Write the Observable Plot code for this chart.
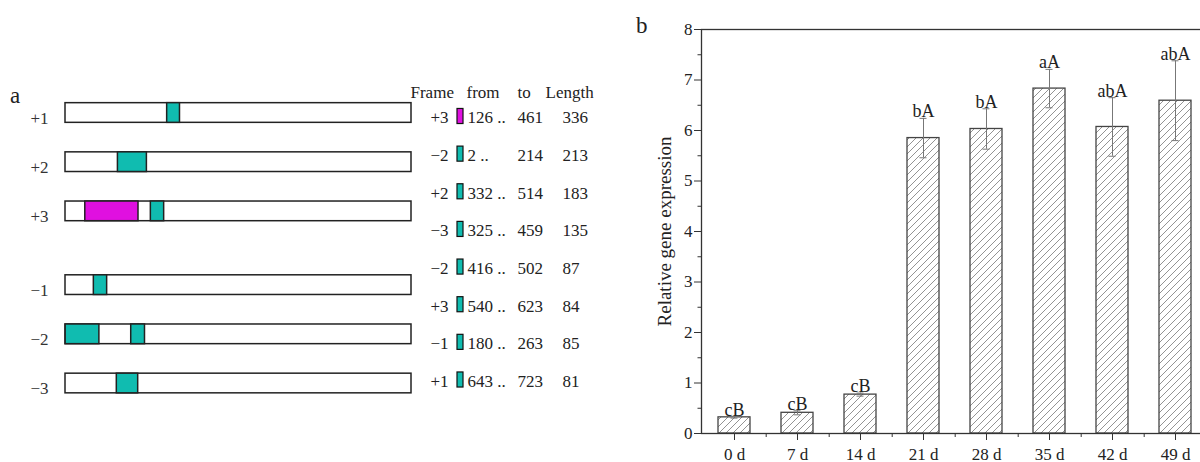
<!DOCTYPE html>
<html>
<head>
<meta charset="utf-8">
<script src="https://cdn.jsdelivr.net/npm/d3@7"></script>
<script src="https://cdn.jsdelivr.net/npm/@observablehq/plot@0.6"></script>
<style>
  html, body { margin: 0; padding: 0; background: #fff; overflow: hidden; width: 1200px; height: 462px; }
  #root { position: relative; width: 1200px; height: 462px; font-family: "Liberation Serif", "Times New Roman", serif; color: #222; }
  .panel { position: absolute; top: 0; }
  .tag { position: absolute; font-size: 23px; line-height: 23px; }
</style>
</head>
<body>
<div id="root">
  <div class="tag" style="left:10px; top:84px;">a</div>
  <div class="tag" style="left:636px; top:14px;">b</div>
</div>
<script>
// ---------- Panel a data ----------
const seqLength = 2185;
const frames = ["+1", "+2", "+3", "−1", "−2", "−3"];
const orfFrame = ["+3", "−2", "+2", "−3", "−2", "+3", "−1", "+1"];
const orfFrom  = [126, 2, 332, 325, 416, 540, 180, 643];
const orfTo    = [461, 214, 514, 459, 502, 623, 263, 723];
const orfLen   = [336, 213, 183, 135, 87, 84, 85, 81];
const tableHeader = ["Frame", "from", "to", "Length"];

// ---------- Panel b data ----------
const days    = ["0 d", "7 d", "14 d", "21 d", "28 d", "35 d", "42 d", "49 d"];
const means   = [0.32, 0.41, 0.77, 5.85, 6.03, 6.83, 6.07, 6.59];
const errors  = [0.015, 0.04, 0.03, 0.39, 0.40, 0.38, 0.58, 0.79];
const letters = ["cB", "cB", "cB", "bA", "bA", "aA", "abA", "abA"];
const yTicks  = [0, 1, 2, 3, 4, 5, 6, 7, 8];
const yTitle  = "Relative gene expression";

const TEAL = "#10bcb0", MAGENTA = "#e010e0";
const root = document.getElementById("root");
const font = {fontFamily: "Liberation Serif, Times New Roman, serif", fontSize: "17px", color: "#222", background: "transparent", overflow: "visible"};

// ---------- ORF map ----------
const maxLen = d3.max(orfLen);
const orfs = orfFrame.map((f, i) => ({frame: f, from: orfFrom[i], to: orfTo[i], len: orfLen[i],
  color: orfLen[i] === maxLen ? MAGENTA : TEAL, row: i}));
const rowPos = f => { const i = frames.indexOf(f); return i < 3 ? i : i + 0.5; };
const half = 0.2;

const orfPlot = Plot.plot({
  width: 420, height: 462, margin: 0,
  style: font,
  x: {domain: [0, seqLength], range: [65, 411], axis: null},
  y: {domain: [0, 5.5], range: [112.5, 383], axis: null},
  color: {type: "identity"},
  marks: [
    Plot.rect(frames, {x1: () => 0, x2: () => seqLength, y1: f => rowPos(f) - half, y2: f => rowPos(f) + half,
      fill: "white", stroke: "#222", strokeWidth: 1.5}),
    Plot.rect(orfs, {x1: d => d.from - 1, x2: "to", y1: d => rowPos(d.frame) - half, y2: d => rowPos(d.frame) + half,
      fill: "color", stroke: "#222", strokeWidth: 1.5}),
    Plot.text(frames, {x: () => 0, y: f => rowPos(f), text: f => f, textAnchor: "end", dx: -17, dy: 5.5, fontSize: 17, fill: "#333"})
  ]
});
orfPlot.classList.add("panel");
orfPlot.style.left = "0px";
root.appendChild(orfPlot);

// ---------- ORF table ----------
const col = {frame: 448, swatchL: 457, swatchR: 463, from: 467, to: 517, len: 562};
const headerX = [410, 466, 517, 545];
const tablePlot = Plot.plot({
  width: 620, height: 462, margin: 0,
  style: font,
  x: {type: "identity", axis: null},
  y: {domain: [0, 7], range: [117.5, 381], axis: null},
  color: {type: "identity"},
  marks: [
    Plot.text(tableHeader, {x: (d, i) => headerX[i], y: () => 0, dy: -25, text: d => d, textAnchor: "start", fontSize: 17, fill: "#222"}),
    Plot.text(orfs, {x: () => col.frame, y: "row", text: "frame", textAnchor: "end", fontSize: 17, fill: "#222"}),
    Plot.rect(orfs, {x1: () => col.swatchL, x2: () => col.swatchR, y1: d => d.row - 0.24, y2: d => d.row + 0.16,
      fill: "color", stroke: "#111", strokeWidth: 1.2}),
    Plot.text(orfs, {x: () => col.from, y: "row", text: d => `${d.from} ..`, textAnchor: "start", fontSize: 17, fill: "#222"}),
    Plot.text(orfs, {x: () => col.to, y: "row", text: d => String(d.to), textAnchor: "start", fontSize: 17, fill: "#222"}),
    Plot.text(orfs, {x: () => col.len, y: "row", text: d => String(d.len), textAnchor: "start", fontSize: 17, fill: "#222"})
  ]
});
tablePlot.classList.add("panel");
tablePlot.style.left = "0px";
root.appendChild(tablePlot);

// ---------- Bar chart ----------
const data = days.map((d, i) => ({day: d, mean: means[i], err: errors[i], letter: letters[i]}));
const W = 590, mL = 81, mR = 2;
const step = (W - mL - mR) / days.length;

const barPlot = Plot.plot({
  width: W, height: 462,
  marginLeft: mL, marginRight: mR, marginTop: 29, marginBottom: 29,
  style: font,
  x: {domain: days, paddingInner: 0.5, paddingOuter: 0.25, label: null},
  y: {domain: [0, 8], label: null},
  marks: [
    Plot.barY(data, {x: "day", y: "mean", fill: "url(#hatch)", stroke: "#444", strokeWidth: 1.3}),
    Plot.ruleX(data, {x: "day", y1: d => d.mean - d.err, y2: d => d.mean + d.err, stroke: "#777", strokeWidth: 1}),
    Plot.tickY(data, {x: "day", y: d => d.mean + d.err, stroke: "#777", strokeWidth: 1, insetLeft: 12.5, insetRight: 12.5}),
    Plot.tickY(data, {x: "day", y: d => d.mean - d.err, stroke: "#777", strokeWidth: 1, insetLeft: 12.5, insetRight: 12.5}),
    Plot.text(data, {x: "day", y: d => d.mean + d.err, text: "letter", lineAnchor: "bottom", dy: -1, fontSize: 18, fill: "#222"}),
    Plot.frame({stroke: "#333", strokeWidth: 1.3}),
    Plot.axisY(yTicks, {tickSize: 7, tickPadding: 2, fontSize: 17, tickFormat: d => String(d), stroke: "#333", fill: "#222", label: null}),
    Plot.axisY(d3.range(0.5, 8, 1), {tickSize: 3.5, tickFormat: () => "", stroke: "#333", label: null}),
    Plot.axisX({tickSize: 7, tickPadding: 7, fontSize: 17, stroke: "#333", fill: "#222", label: null}),
    Plot.axisX({tickSize: 4, tickFormat: () => "", dx: step / 2, stroke: "#333", label: null}),
    Plot.text([yTitle], {frameAnchor: "left", y: () => 4, text: d => d, rotate: -90, textAnchor: "middle", lineAnchor: "middle",
      dx: -37, fontSize: 19, fill: "#222"})
  ]
});
const ns = "http://www.w3.org/2000/svg";
const defs = document.createElementNS(ns, "defs");
defs.innerHTML = '<pattern id="hatch" patternUnits="userSpaceOnUse" width="7" height="7">' +
  '<path d="M-1,1 l2,-2 M0,7 l7,-7 M6,8 l2,-2" stroke="#777" stroke-width="0.8" fill="none"/></pattern>';
barPlot.insertBefore(defs, barPlot.firstChild);
barPlot.classList.add("panel");
barPlot.style.left = "620px";
root.appendChild(barPlot);
</script>
</body>
</html>
